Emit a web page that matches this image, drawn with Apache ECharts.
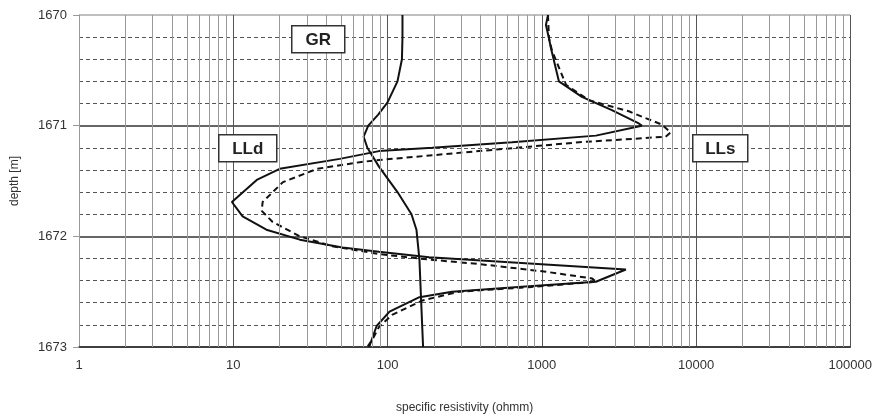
<!DOCTYPE html>
<html>
<head>
<meta charset="utf-8">
<script src="https://cdn.jsdelivr.net/npm/echarts@6/dist/echarts.min.js"></script>
<style>
  html, body { margin: 0; padding: 0; background: #fff; }
  #main { width: 875px; height: 419px; }
</style>
</head>
<body>
<div id="main"></div>
<script>
// GR curve
var grDepth = [1670.0, 1670.2, 1670.4, 1670.6, 1670.79, 1670.9, 1671.0, 1671.1, 1671.2, 1671.37, 1671.6, 1671.8, 1671.94, 1672.21, 1672.57, 1673.0];
var grRes   = [125, 125, 124, 116, 100, 87, 75, 70, 74, 88, 116, 143, 154, 161, 165, 170];

// LLd (deep laterolog, solid)
var lldDepth = [1670.0, 1670.09, 1670.21, 1670.3, 1670.6, 1670.74, 1670.86, 1670.98, 1671.0, 1671.09, 1671.15, 1671.2, 1671.23, 1671.3, 1671.39, 1671.49, 1671.69, 1671.82, 1671.94, 1672.03, 1672.1, 1672.14, 1672.19, 1672.3, 1672.41, 1672.45, 1672.5, 1672.55, 1672.68, 1672.81, 1673.0];
var lldRes   = [1097, 1064, 1113, 1147, 1292, 1820, 2845, 4254, 4450, 2243, 641, 195, 88, 49, 20, 14.2, 9.8, 11.5, 16.4, 27, 51, 88, 186, 3508, 2243, 826, 262, 161, 103, 85, 76];

// LLs (shallow laterolog, dashed)
var llsDepth = [1670.0, 1670.21, 1670.32, 1670.63, 1670.77, 1670.87, 1670.99, 1671.06, 1671.1, 1671.15, 1671.23, 1671.31, 1671.33, 1671.39, 1671.51, 1671.69, 1671.77, 1671.87, 1672.0, 1672.09, 1672.16, 1672.21, 1672.25, 1672.32, 1672.38, 1672.41, 1672.46, 1672.5, 1672.58, 1672.71, 1672.82, 1672.93, 1673.0];
var llsRes   = [1097, 1113, 1164, 1435, 2020, 3664, 5985, 6855, 6350, 1740, 392, 88, 66, 35, 21, 15.5, 15.3, 18, 27, 44, 88, 186, 392, 1064, 2113, 2243, 826, 291, 168, 107, 88, 80, 74];

function pairs(res, depth) {
    var out = [];
    for (var i = 0; i < res.length; i++) {
        out.push([res[i], depth[i]]);
    }
    return out;
}

// vertical minor grid lines 2..9 of every decade
var minorLines = [];
for (var d = 1; d < 100000; d *= 10) {
    for (var m = 2; m <= 9; m++) {
        minorLines.push({ xAxis: m * d });
    }
}

var labelBox = function (text, left, top, w, h) {
    return {
        type: 'group',
        left: left,
        top: top,
        z: 100,
        children: [
            { type: 'rect', z: 100, shape: { x: 0, y: 0, width: w, height: h },
              style: { fill: '#fff', stroke: '#333', lineWidth: 1.5 } },
            { type: 'text', z: 101, x: w / 2, y: h / 2 + 1,
              style: { text: text, fill: '#222', font: 'bold 17px "Liberation Sans", Arial, sans-serif',
                       align: 'center', verticalAlign: 'middle' } }
        ]
    };
};

var plainNum = function (v) { return String(v); };

var option = {
    animation: false,
    backgroundColor: '#fff',
    grid: {
        left: 79,
        right: 23,
        top: 15,
        bottom: 71
    },
    xAxis: {
        type: 'log',
        logBase: 10,
        min: 1,
        max: 100000,
        name: 'specific resistivity (ohmm)',
        nameLocation: 'middle',
        nameGap: 55,
        nameTextStyle: { color: '#333', fontSize: 12, fontFamily: 'Liberation Sans' },
        axisLine: { show: true, lineStyle: { color: '#333', width: 1.5 } },
        axisTick: { show: false },
        axisLabel: { color: '#333', fontSize: 13, fontFamily: 'Liberation Sans', margin: 12, formatter: plainNum },
        splitLine: { show: true, lineStyle: { color: '#555', width: 1 } }
    },
    yAxis: {
        type: 'value',
        inverse: true,
        min: 1670,
        max: 1673,
        interval: 1,
        name: 'depth [m]',
        nameLocation: 'middle',
        nameGap: 58,
        nameTextStyle: { color: '#333', fontSize: 12, fontFamily: 'Liberation Sans' },
        axisLine: { show: true, lineStyle: { color: '#999', width: 1 } },
        axisTick: { show: true, length: 6, lineStyle: { color: '#999' } },
        axisLabel: { color: '#333', fontSize: 13, fontFamily: 'Liberation Sans', margin: 12, formatter: plainNum },
        splitLine: { show: true, lineStyle: { color: ['#aaa', '#333', '#333', '#333'], width: 1.5 } },
        minorTick: { show: false, splitNumber: 5 },
        minorSplitLine: { show: true, lineStyle: { color: '#555', width: 1, type: [4, 3] } }
    },
    series: [
        {
            name: 'grid',
            type: 'line',
            data: [],
            silent: true,
            markLine: {
                silent: true,
                symbol: ['none', 'none'],
                label: { show: false },
                lineStyle: { color: '#999', width: 1, type: 'solid' },
                data: minorLines
            }
        },
        {
            name: 'GR',
            type: 'line',
            showSymbol: false,
            data: pairs(grRes, grDepth),
            lineStyle: { color: '#111', width: 2 }
        },
        {
            name: 'LLd',
            type: 'line',
            showSymbol: false,
            data: pairs(lldRes, lldDepth),
            lineStyle: { color: '#111', width: 2 }
        },
        {
            name: 'LLs',
            type: 'line',
            showSymbol: false,
            data: pairs(llsRes, llsDepth),
            lineStyle: { color: '#111', width: 2, type: [6, 4] }
        }
    ],
    graphic: [
        labelBox('GR', 291, 25, 53, 27),
        labelBox('LLd', 218, 134, 58, 27),
        labelBox('LLs', 692, 134, 55, 27)
    ]
};

var chart = echarts.init(document.getElementById('main'));
chart.setOption(option);
window.addEventListener('resize', function () {
    chart.resize();
});
</script>
</body>
</html>
